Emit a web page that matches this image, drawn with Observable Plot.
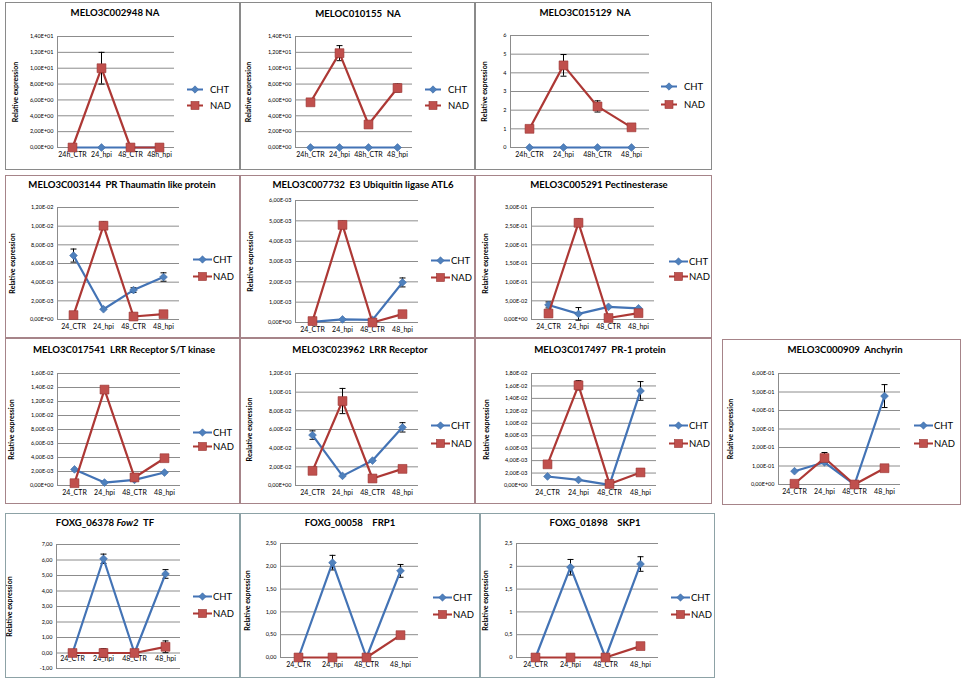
<!DOCTYPE html>
<html><head><meta charset="utf-8">
<script src="https://cdn.jsdelivr.net/npm/d3@7"></script>
<script src="https://cdn.jsdelivr.net/npm/@observablehq/plot@0.6"></script>
<style>
html,body{margin:0;padding:0;background:#fff;}
#chart{position:relative;width:964px;height:681px;overflow:hidden;font-family:Lato,"Open Sans",sans-serif;color:#000;}
.panel{position:absolute;outline-style:solid;outline-width:1.5px;outline-offset:-1px;}
.panel svg{display:block;}
.panel g[aria-label="y-axis label"]{font-size:7px;font-weight:bold;}
.title{position:absolute;transform:translate(-50%,-50%);white-space:pre;font-weight:bold;font-size:9.6px;}
.leg{position:absolute;transform:translateY(-50%);display:flex;align-items:center;font-size:9.5px;white-space:nowrap;}
.leg svg{display:block;}
</style></head>
<body><div id="chart"></div>
<script>
// ---------- data ----------
const series = ["CHT", "NAD"];
const catsA = ["24h_CTR", "24_hpi", "48_CTR", "48h_hpi"];
const catsB = ["24h_CTR", "24_hpi", "48h_CTR", "48_hpi"];
const catsStd = ["24_CTR", "24_hpi", "48_CTR", "48_hpi"];
const panelCategories = [catsA, catsB, catsB, catsStd, catsStd, catsStd, catsStd, catsStd, catsStd, catsStd, catsStd, catsStd, catsStd];

const titles = [
  "MELO3C002948 NA", "MELOC010155  NA", "MELO3C015129  NA",
  "MELO3C003144  PR Thaumatin like protein", "MELO3C007732  E3 Ubiquitin ligase ATL6", "MELO3C005291 Pectinesterase",
  "MELO3C017541  LRR Receptor S/T kinase", "MELO3C023962  LRR Receptor", "MELO3C017497  PR-1 protein", "MELO3C000909  Anchyrin",
  "FOXG_06378 <i>Fow2</i>  TF", "FOXG_00058    FRP1", "FOXG_01898    SKP1"
];
const yLabels = ["Relative expression", "Relative expression", "Relative expression", "Relative expression", "Relative expression", "Relative expression",
  "Relative expression", "Realative expression", "Relative expression", "Relative expression", "Relative expression", "Relative expression", "Relative expression"];

const chtValues = [
  [0, 0, 0, 0], [0, 0, 0, 0], [0, 0, 0, 0],
  [6.85e-3, 1.1e-3, 3.15e-3, 4.55e-3], [0.03e-3, 0.15e-3, 0.13e-3, 1.97e-3], [0.039, 0.015, 0.034, 0.030],
  [2.3e-3, 0.42e-3, 0.8e-3, 1.85e-3], [0.054, 0.0103, 0.0267, 0.0623], [1.45e-3, 0.9e-3, 0.1e-3, 15.2e-3], [0.072, 0.12, 0.0, 0.478],
  [0, 6.08, 0, 5.1], [0, 2.08, 0, 1.9], [0, 1.98, 0, 2.05]
];
const chtErrors = [
  [0, 0, 0, 0], [0, 0, 0, 0], [0, 0, 0, 0],
  [0.7e-3, 0, 0.25e-3, 0.45e-3], [0, 0, 0, 0.22e-3], [0.008, 0.017, 0, 0],
  [0, 0, 0, 0], [0.0045, 0, 0, 0.005], [0, 0, 0, 1.5e-3], [0, 0, 0, 0.062],
  [0.2, 0.3, 0.15, 0.28], [0, 0.16, 0, 0.14], [0, 0.17, 0, 0.16]
];
const nadValues = [
  [0, 10, 0, 0], [5.7, 11.9, 2.9, 7.5], [1.0, 4.4, 2.2, 1.08],
  [0.47e-3, 10.05e-3, 0.32e-3, 0.57e-3], [0.07e-3, 4.8e-3, 0.0, 0.41e-3], [0.016, 0.259, 0.004, 0.017],
  [0.33e-3, 13.7e-3, 1.15e-3, 3.9e-3], [0.0157, 0.0905, 0.0075, 0.0178], [3.4e-3, 16.1e-3, 0.25e-3, 2.1e-3], [0.004, 0.143, 0.0, 0.088],
  [0, 0, 0, 0.4], [0, 0, 0, 0.49], [0, 0, 0, 0.25]
];
const nadErrors = [
  [0, 2, 0, 0], [0.2, 0.95, 0.2, 0.5], [0, 0.58, 0.3, 0],
  [0, 0.4e-3, 0, 0], [0, 0.18e-3, 0, 0], [0, 0.01, 0, 0],
  [0, 0.45e-3, 0, 0], [0, 0.0135, 0, 0], [0, 0.75e-3, 0, 0], [0, 0.03, 0, 0.01],
  [0, 0.28, 0, 0.38], [0, 0, 0, 0], [0, 0, 0, 0.04]
];
const yTicks = [
  [0, 2, 4, 6, 8, 10, 12, 14], [0, 2, 4, 6, 8, 10, 12, 14], [0, 1, 2, 3, 4, 5, 6],
  [0, 0.002, 0.004, 0.006, 0.008, 0.010, 0.012], [0, 0.001, 0.002, 0.003, 0.004, 0.005, 0.006], [0, 0.05, 0.10, 0.15, 0.20, 0.25, 0.30],
  [0, 0.002, 0.004, 0.006, 0.008, 0.010, 0.012, 0.014, 0.016], [0, 0.02, 0.04, 0.06, 0.08, 0.10, 0.12],
  [0, 0.002, 0.004, 0.006, 0.008, 0.010, 0.012, 0.014, 0.016, 0.018], [0, 0.1, 0.2, 0.3, 0.4, 0.5, 0.6],
  [-1, 0, 1, 2, 3, 4, 5, 6, 7], [0, 0.5, 1, 1.5, 2, 2.5], [0, 0.5, 1, 1.5, 2, 2.5]
];
const tickFormats = ["sci", "sci", "int", "sci", "sci", "sci", "sci", "sci", "sci", "sci", "fix2", "fix2", "comma"];

// ---------- layout (page coordinates) ----------
const boxes = [[5,2,240,170],[240,2,475,170],[475,2,712,170],
  [5,175,240,338],[240,175,475,338],[475,175,712,338],
  [5,338,240,504],[240,338,475,504],[475,338,712,504],[722,339,961,505],
  [5,513,240,678],[240,513,480,678],[480,513,715,678]];
const plotAreas = [[57,36,174,147],[295,36,412,147],[510,35,649,147],
  [57,207,179,319],[295,200,418,322],[531,207,654,319],
  [57,373,180,485],[295,373,418,485],[531,373,656,485],[778,373,900,484],
  [56,544,180,668],[280,543,418,657],[516,543,658,657]];
const titlePos = [[115,12],[358,13],[585,12],[122,184],[363,184],[599,184],[124,349],[360,349],[600,349],[845,349],[105,522],[350,522],[595,522]];
const legendPos = [[187,89,105],[425,89,105],[661,86,104],[193,259,276],[431,260,277],[669,261,276],[193,432,446],[431,425,443],[669,425,443],[914,425,443],[193,596,613],[433,597,614],[671,597,614]];
const yLabelX = [16,249,485,13,251,486,12,250,487,731,10,248,486];
const rowOf = [0,0,0,1,1,1,2,2,2,2,3,3,3];
const borderColors = ["#8a8a8a", "#a68489", "#a68489", "#8da2a6"];

const gridColor = "#8c8c8c";
const chtLine = "#4373b5", chtFill = "#4f81bd", chtStroke = "#3d6aa6";
const nadLine = "#ad3835", nadFill = "#c0504d", nadStroke = "#983230";

function formatter(kind) {
  if (kind === "sci") return v => {
    if (v === 0) return "0,00E+00";
    const e = Math.floor(Math.log10(Math.abs(v)) + 1e-9);
    const m = v / Math.pow(10, e);
    return m.toFixed(2).replace(".", ",") + "E" + (e < 0 ? "-" : "+") + String(Math.abs(e)).padStart(2, "0");
  };
  if (kind === "fix2") return v => v.toFixed(2).replace(".", ",");
  if (kind === "comma") return v => String(v).replace(".", ",");
  return v => String(v);
}

const cap = {draw(ctx) { ctx.moveTo(-3, 0); ctx.lineTo(3, 0); }};

const chart = document.getElementById("chart");

function legendItem(x, y, s, row1) {
  const sw = row1 ? 16 : 19;
  const div = document.createElement("div");
  div.className = "leg";
  div.style.left = x + "px";
  div.style.top = y + "px";
  const isC = s === "CHT";
  const marker = isC
    ? `<rect x="${sw/2-2.6}" y="2.4" width="5.2" height="5.2" transform="rotate(45 ${sw/2} 5)" fill="${chtFill}" stroke="${chtStroke}" stroke-width="0.6"/>`
    : `<rect x="${sw/2-4}" y="1" width="8" height="8" fill="${nadFill}" stroke="${nadStroke}" stroke-width="0.6"/>`;
  div.innerHTML = `<svg width="${sw}" height="10"><line x1="0" x2="${sw}" y1="5" y2="5" stroke="${isC ? chtLine : nadLine}" stroke-width="2.2"/>${marker}</svg><span style="margin-left:${row1 ? 7 : 1}px">${s}</span>`;
  chart.appendChild(div);
}

titles.forEach((t, i) => {
  const [bx0, by0, bx1, by1] = boxes[i];
  const [px0, py0, px1, py1] = plotAreas[i];
  const W = bx1 - bx0, H = by1 - by0;
  const cats = panelCategories[i];
  const ticks = yTicks[i];
  const rows = series.flatMap((s, si) => cats.map((c, ci) => ({
    cat: c, series: s,
    v: (si ? nadValues : chtValues)[i][ci],
    err: (si ? nadErrors : chtErrors)[i][ci]
  })));
  const cht = rows.filter(d => d.series === "CHT");
  const nad = rows.filter(d => d.series === "NAD");
  const errRows = rows.filter(d => d.err > 0);
  const zeroAxis = ticks[0] < 0;

  const svg = Plot.plot({
    width: W, height: H,
    marginLeft: px0 - bx0, marginRight: bx1 - px1,
    marginTop: py0 - by0, marginBottom: by1 - py1,
    style: {background: "transparent", fontFamily: "Lato, 'Open Sans', sans-serif", overflow: "visible", color: "#000"},
    x: {type: "point", domain: cats, padding: 0.5, axis: zeroAxis ? null : undefined},
    y: {domain: [ticks[0], ticks[ticks.length - 1]]},
    marks: [
      Plot.gridY(ticks, {stroke: gridColor, strokeOpacity: 1, strokeWidth: 1}),
      Plot.frame({anchor: "left", stroke: gridColor, strokeWidth: 1}),
      Plot.axisY(ticks, {
        tickFormat: formatter(tickFormats[i]), tickSize: 0, tickPadding: 4, fontSize: 5.5,
        label: yLabels[i], labelAnchor: "center", labelArrow: "none",
        labelOffset: (px0 - bx0) - (yLabelX[i] - bx0 - 3.5)
      }),
      zeroAxis
        ? Plot.text(cats, {x: d => d, y: 0, dy: 3, lineAnchor: "top", fontSize: 7})
        : Plot.axisX({tickSize: 0, tickPadding: 5, fontSize: 7, label: null}),
      Plot.ruleX(errRows, {x: "cat", y1: d => d.v - d.err, y2: d => d.v + d.err, stroke: "#000", strokeWidth: 1}),
      Plot.dot(errRows, {x: "cat", y: d => d.v + d.err, symbol: cap, stroke: "#000", fill: "none", strokeWidth: 1}),
      Plot.dot(errRows, {x: "cat", y: d => d.v - d.err, symbol: cap, stroke: "#000", fill: "none", strokeWidth: 1}),
      Plot.lineY(cht, {x: "cat", y: "v", stroke: chtLine, strokeWidth: 2.2}),
      Plot.dot(cht, {x: "cat", y: "v", symbol: "square", rotate: 45, r: 3.1, fill: chtFill, stroke: chtStroke, strokeWidth: 0.6}),
      Plot.lineY(nad, {x: "cat", y: "v", stroke: nadLine, strokeWidth: 2.2}),
      Plot.dot(nad, {x: "cat", y: "v", symbol: "square", r: 5, fill: nadFill, stroke: nadStroke, strokeWidth: 0.6})
    ]
  });

  const panel = document.createElement("div");
  panel.className = "panel";
  panel.style.left = bx0 + "px";
  panel.style.top = by0 + "px";
  panel.style.width = W + "px";
  panel.style.height = H + "px";
  panel.style.outlineColor = borderColors[rowOf[i]];
  panel.appendChild(svg);
  chart.appendChild(panel);

  const title = document.createElement("div");
  title.className = "title";
  title.style.left = titlePos[i][0] + "px";
  title.style.top = titlePos[i][1] + "px";
  title.innerHTML = t;
  chart.appendChild(title);

  const [lx, ly1, ly2] = legendPos[i];
  legendItem(lx, ly1, "CHT", rowOf[i] === 0);
  legendItem(lx, ly2, "NAD", rowOf[i] === 0);
});
</script>
</body></html>
